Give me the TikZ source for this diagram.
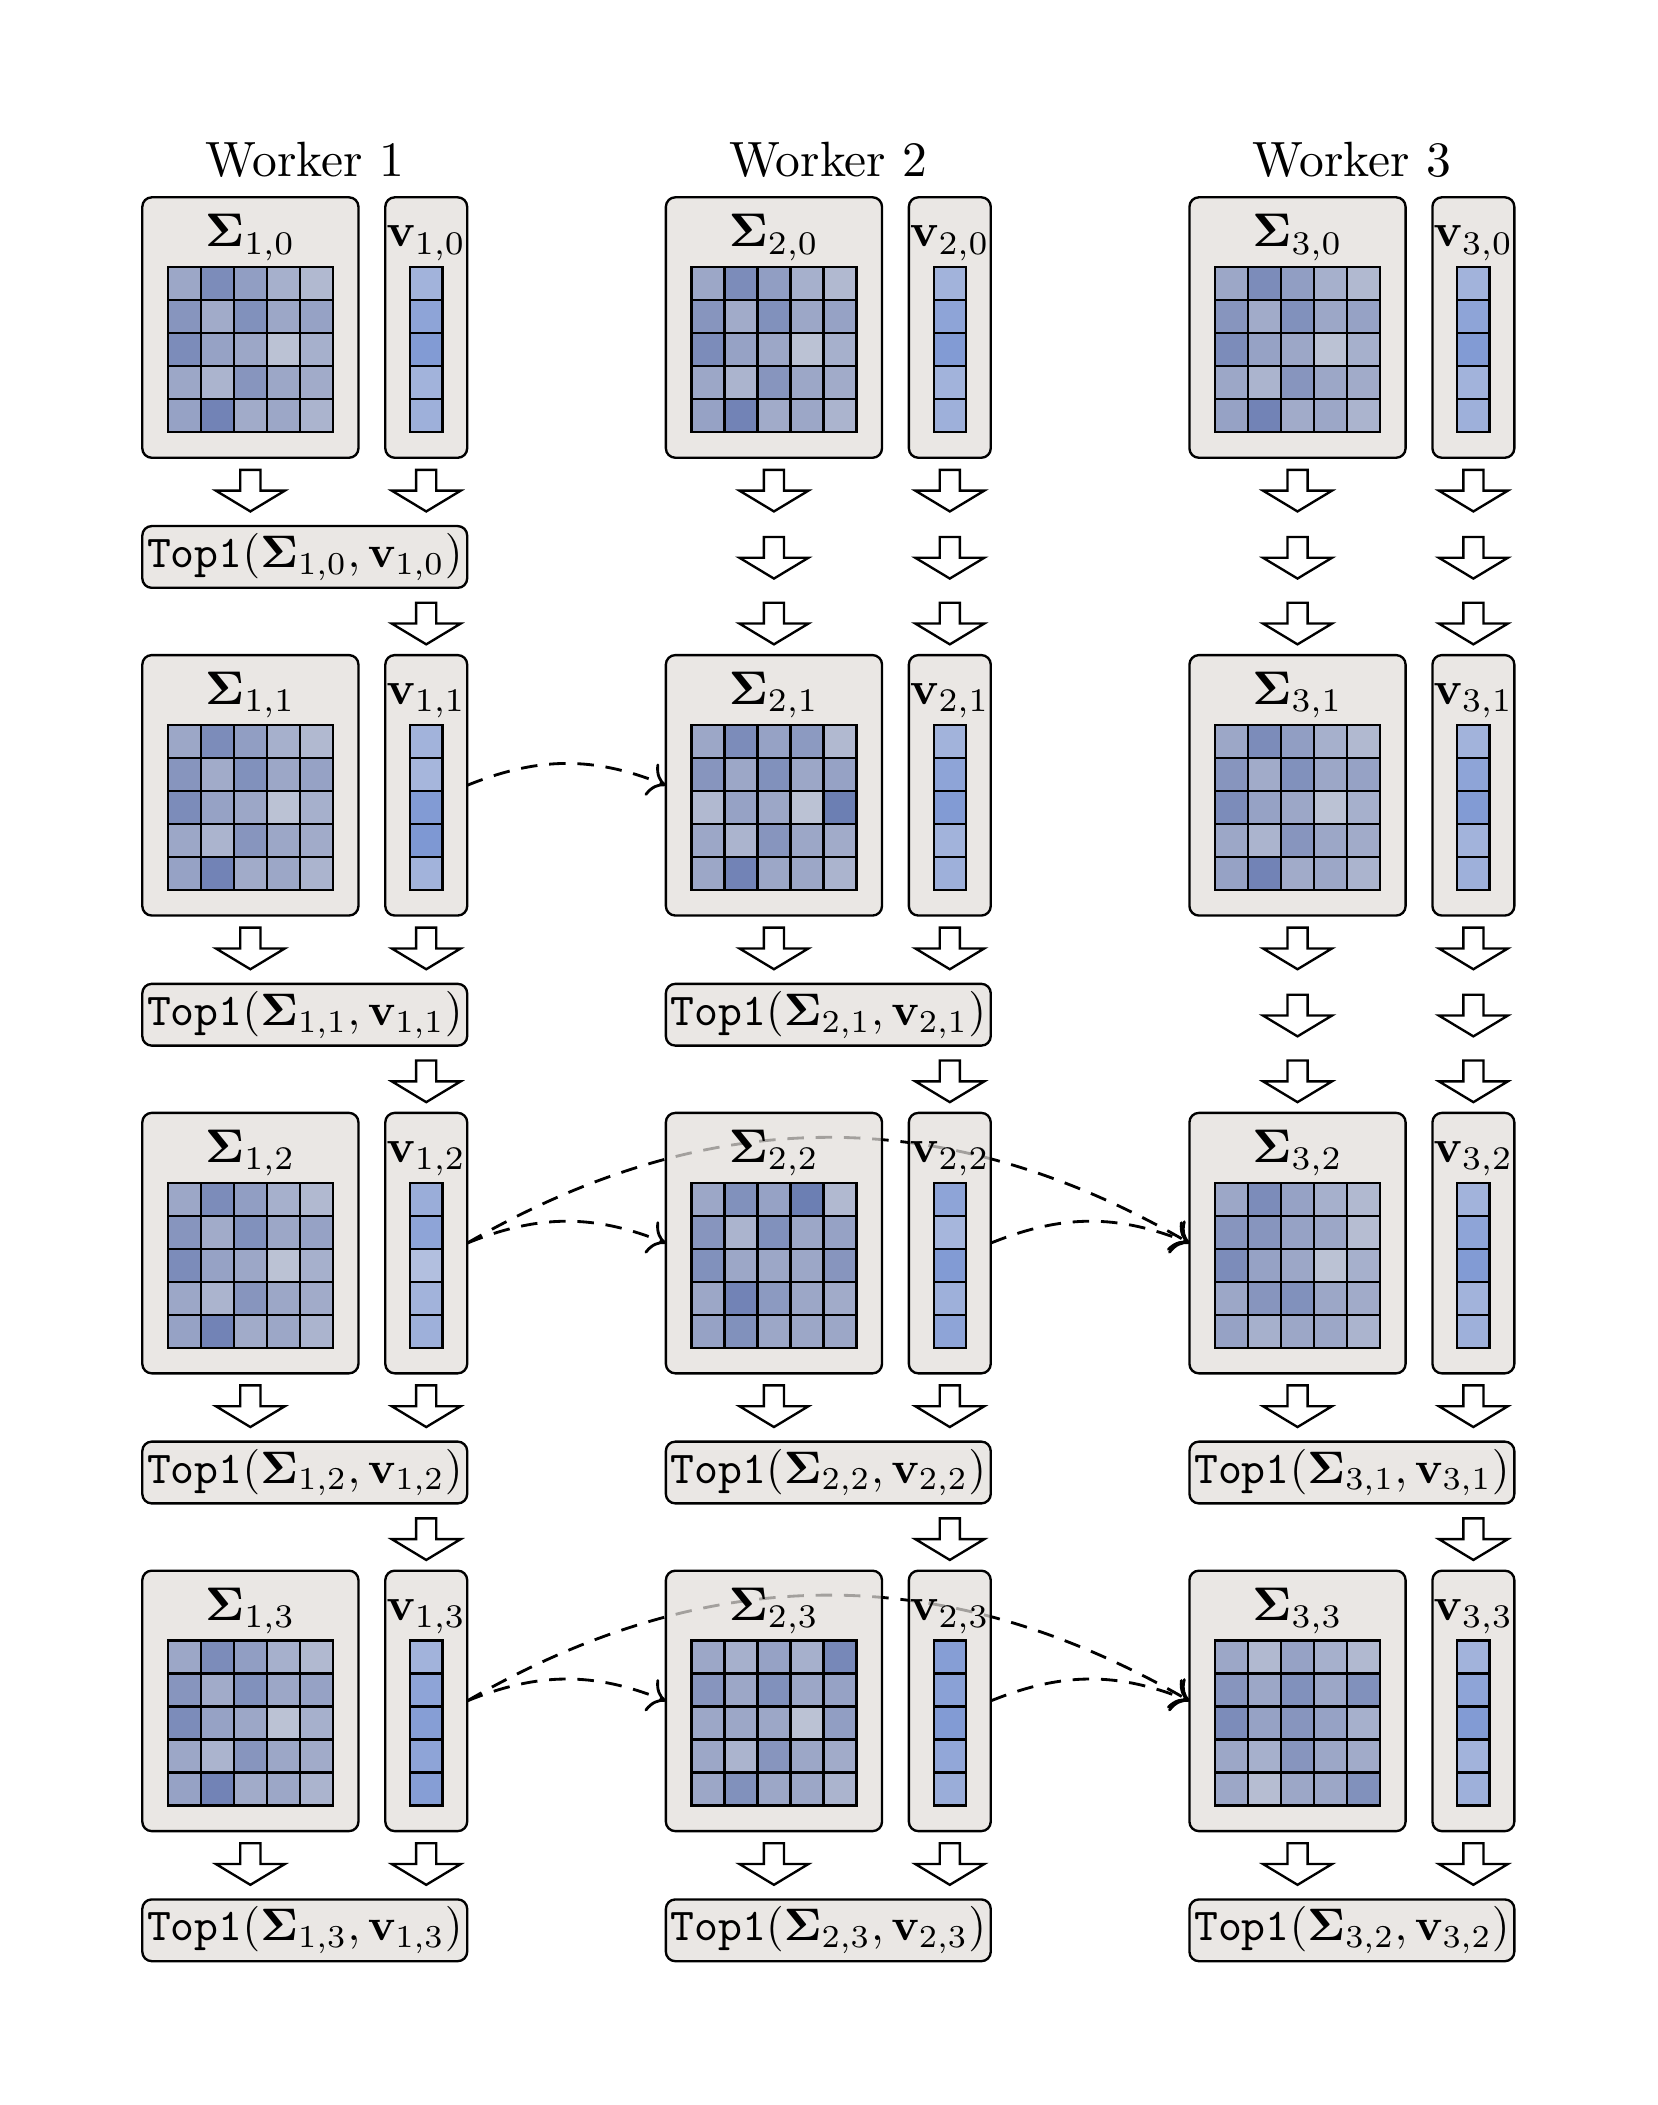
\documentclass[tikz,border=0pt]{standalone}
\usepackage{amsmath,amssymb}
\usepackage{tikz}
\usetikzlibrary{arrows.meta,positioning,calc,backgrounds}

\definecolor{boxgray}{RGB}{226,222,218}
\definecolor{matdark}{RGB}{98,118,175}
\definecolor{matlight}{RGB}{203,207,219}
\definecolor{vecdark}{RGB}{110,140,207}
\definecolor{veclight}{RGB}{190,200,226}

% cell shades (percent of the dark colour), one group per matrix row
\newcommand{\matA}{{45,75,55,35,25},{65,40,70,45,50},{75,50,45,15,35},{45,30,65,45,40},{50,85,40,45,30}}
\newcommand{\matB}{{45,75,50,60,25},{65,45,70,45,50},{25,50,45,15,90},{45,30,65,45,40},{45,85,45,45,30}}
\newcommand{\matC}{{45,70,50,90,25},{65,30,70,45,50},{70,45,45,45,65},{45,85,60,45,40},{50,70,45,45,45}}
\newcommand{\matD}{{45,35,50,35,80},{65,45,70,45,50},{45,45,45,15,55},{45,30,65,45,40},{45,70,45,45,30}}
\newcommand{\matE}{{45,75,50,35,25},{65,65,50,45,20},{75,50,45,15,35},{45,65,70,45,40},{50,35,45,45,30}}
\newcommand{\matF}{{45,25,50,35,25},{65,45,70,45,70},{75,50,65,50,35},{45,35,65,45,40},{45,20,45,45,70}}
\newcommand{\vecA}{35,60,75,35,40}
\newcommand{\vecB}{35,30,75,80,35}
\newcommand{\vecC}{45,60,15,35,40}
\newcommand{\vecD}{35,60,70,60,70}
\newcommand{\vecE}{60,30,75,40,60}
\newcommand{\vecF}{70,65,75,55,45}

\tikzset{
  downarrow/.pic={
    \draw[blockarrow] (-0.075,0) -- (0.075,0) -- (0.075,-0.155) -- (0.257,-0.155)
      -- (0,-0.31) -- (-0.257,-0.155) -- (-0.075,-0.155) -- cycle;
  }
}

% one worker state: matrix box and vector box
\newcommand{\workerblock}[4]{%
  \node[sigbox] (S#1#2) at ({1.865+3.9*(#1-1)},{13.24-3.41*#2}) {};
  \node[vecbox, right=2mm of S#1#2] (V#1#2) {};
  \node[lbl] (LS#1#2) at ($(S#1#2.north)+(0,-0.37)$) {$\boldsymbol{\Sigma}_{#1,#2}$};
  \node[lbl] (LV#1#2) at ($(V#1#2.north)+(0,-0.37)$) {$\mathbf{v}_{#1,#2}$};
  \begin{scope}[shift={($(S#1#2.south west)+(0.19,0.19)$)}]
    \foreach \row [count=\i] in #3
      \foreach \p [count=\j] in \row
        \draw[cell, fill=matdark!\p!matlight] ({0.246*(\j-1)},{0.246*(5-\i)}) rectangle ++(0.246,0.246);
  \end{scope}
  \begin{scope}[shift={($(V#1#2.south)+(-0.12,0.19)$)}]
    \foreach \p [count=\i] in #4
      \draw[cell, fill=vecdark!\p!veclight] (0,{0.246*(5-\i)}) rectangle ++(0.24,0.246);
  \end{scope}
}

% arrows and Top1 box below a state
\newcommand{\topstep}[3]{%
  \pic at ($(S#1#2.south)+(0,-0.09)$) {downarrow};
  \pic at ($(V#1#2.south)+(0,-0.09)$) {downarrow};
  \node[topbox] (T#1#2) at ($(S#1#2.south west)!0.5!(V#1#2.south east)+(0,-0.50)$)
    {\scalebox{0.965}{\texttt{Top1}$(\boldsymbol{\Sigma}_{#1,#3},\mathbf{v}_{#1,#3})$}};
  \ifnum#2<3 \pic at ($(V#1#2.south)+(0,-1.08)$) {downarrow};\fi
}

% arrows only, no Top1 in this round
\newcommand{\passstep}[2]{%
  \foreach \dy in {0.09,0.59,1.08} {
    \pic at ($(S#1#2.south)+(0,-\dy)$) {downarrow};
    \pic at ($(V#1#2.south)+(0,-\dy)$) {downarrow};
  }
}

\begin{document}
\begin{tikzpicture}[
    sigbox/.style={draw, line width=0.5pt, rounded corners=2pt, fill=boxgray,
      fill opacity=0.72, text opacity=1, minimum width=1.61cm,
      minimum height=1.94cm, inner sep=0pt, outer sep=0pt},
    vecbox/.style={sigbox, minimum width=0.61cm},
    topbox/.style={draw, line width=0.5pt, rounded corners=2pt, fill=boxgray,
      fill opacity=0.72, text opacity=1, minimum width=2.42cm,
      minimum height=0.46cm, inner sep=0.5pt, anchor=north},
    lbl/.style={anchor=base, inner sep=0pt},
    cell/.style={draw=black, line width=0.5pt},
    blockarrow/.style={draw, fill=white, line width=0.5pt},
    sendarrow/.style={-{To[length=3.5pt]}, dash pattern=on 3.5pt off 2.5pt,
      line width=0.6pt}]

  \useasboundingbox (0,0) rectangle (12.35,15.68);

  \workerblock{1}{0}{\matA}{\vecA}
  \workerblock{1}{1}{\matA}{\vecB}
  \workerblock{1}{2}{\matA}{\vecC}
  \workerblock{1}{3}{\matA}{\vecD}
  \workerblock{2}{0}{\matA}{\vecA}
  \workerblock{2}{1}{\matB}{\vecA}
  \workerblock{2}{2}{\matC}{\vecE}
  \workerblock{2}{3}{\matD}{\vecF}
  \workerblock{3}{0}{\matA}{\vecA}
  \workerblock{3}{1}{\matA}{\vecA}
  \workerblock{3}{2}{\matE}{\vecA}
  \workerblock{3}{3}{\matF}{\vecA}

  \foreach \w in {1,2,3}
    \node[lbl] (W\w) at ($(S\w0.north west)!0.5!(V\w0.north east)+(0,0.154)$)
      {\scalebox{1.05}{Worker \w}};

  \topstep{1}{0}{0}
  \topstep{1}{1}{1}
  \topstep{1}{2}{2}
  \topstep{1}{3}{3}
  \passstep{2}{0}
  \topstep{2}{1}{1}
  \topstep{2}{2}{2}
  \topstep{2}{3}{3}
  \passstep{3}{0}
  \passstep{3}{1}
  \topstep{3}{2}{1}
  \topstep{3}{3}{2}

  % messages between workers, behind the boxes
  \begin{scope}[on background layer]
    \draw[sendarrow] (V11.east) to[bend left=22] (S21.west);
    \draw[sendarrow] (V12.east) to[bend left=22] (S22.west);
    \draw[sendarrow] (V12.east) to[bend left=30] (S32.west);
    \draw[sendarrow] (V22.east) to[bend left=22] (S32.west);
    \draw[sendarrow] (V13.east) to[bend left=22] (S23.west);
    \draw[sendarrow] (V13.east) to[bend left=30] (S33.west);
    \draw[sendarrow] (V23.east) to[bend left=22] (S33.west);
  \end{scope}
\end{tikzpicture}
\end{document}
